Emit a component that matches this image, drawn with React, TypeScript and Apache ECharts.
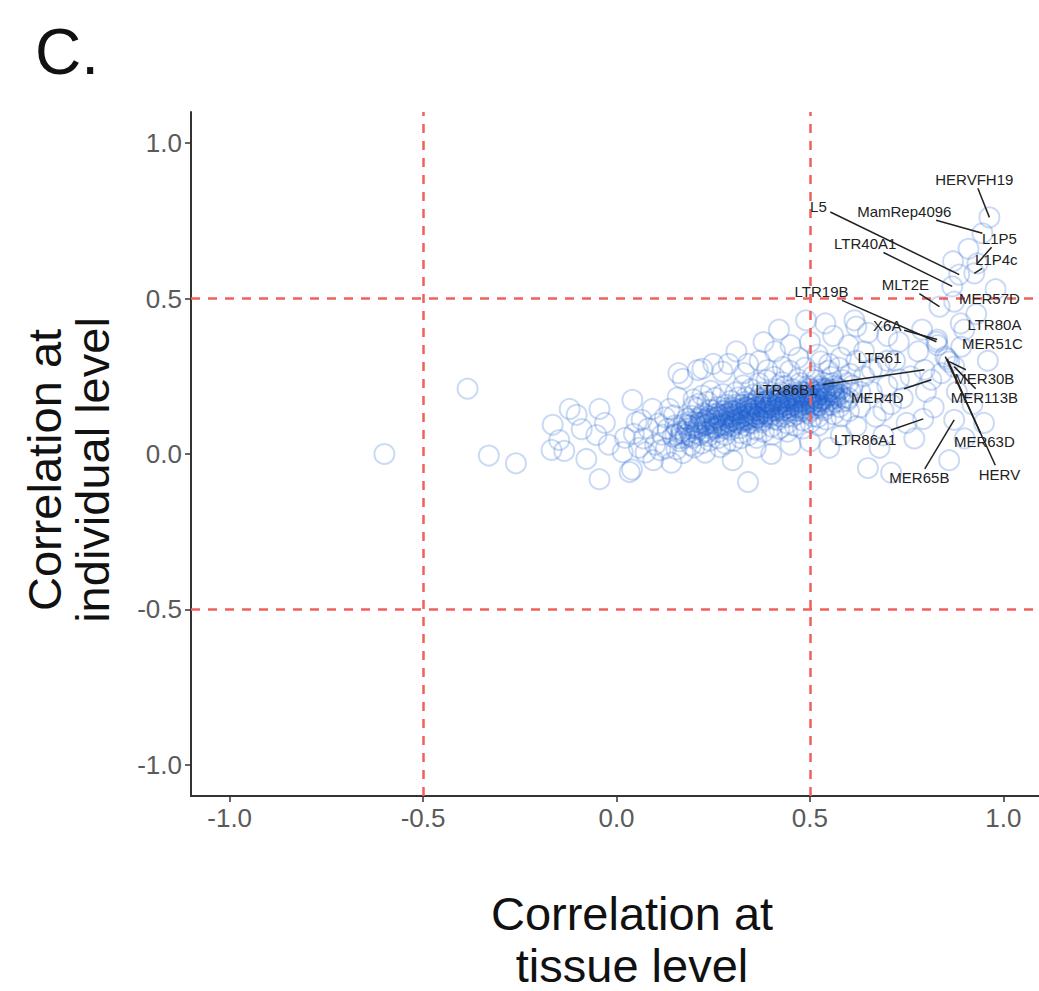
import React, { useEffect, useRef } from "react";
import * as echarts from "echarts";

const FONT = '"Liberation Sans", Arial, Helvetica, sans-serif';

const xTicks = [-1, -0.5, 0, 0.5, 1];
const yTicks = [-1, -0.5, 0, 0.5, 1];
const refLinesX = [-0.5, 0.5];
const refLinesY = [-0.5, 0.5];

// sparse points on the left / lower part of the cloud
const sparsePoints = [
  [-0.6, 0.0], [-0.385, 0.21], [-0.33, -0.005], [-0.26, -0.03],
  [-0.168, 0.013], [-0.165, 0.094], [-0.121, 0.145], [-0.103, 0.126], [-0.148, 0.045], [-0.135, 0.01],
  [-0.044, 0.145], [-0.052, 0.061], [-0.078, -0.016], [-0.044, -0.081], [-0.02, 0.03], [-0.03, 0.1], [-0.09, 0.08],
  [0.041, 0.174], [0.052, 0.103], [0.034, -0.058], [0.016, 0.006], [0.093, 0.145], [0.07, 0.05], [0.058, 0.02],
  [0.082, 0.082], [0.1, 0.03], [0.022, 0.052], [0.095, -0.02], [0.045, 0.065], [0.075, 0.005], [0.065, 0.11],
  [0.137, 0.145], [0.171, 0.242], [0.118, 0.062], [0.128, 0.018], [0.152, 0.092], [0.163, 0.041], [0.182, 0.113],
  [0.188, 0.071], [0.108, 0.098], [0.142, -0.028], [0.172, 0.003], [0.198, 0.153], [0.193, 0.028], [0.148, 0.124],
  [0.178, 0.052], [0.132, 0.081], [0.158, 0.182], [0.113, 0.012], [0.125, 0.118], [0.166, 0.068], [0.145, 0.056],
  [0.185, 0.092], [0.155, 0.015], [0.04, -0.05], [0.34, -0.09],
  [0.3, -0.02], [0.36, 0.02], [0.4, 0.0], [0.45, 0.03], [0.5, 0.04], [0.55, 0.02], [0.58, 0.06],
];

// points just above the dense band
const upperPoints = [
  [0.16, 0.26], [0.21, 0.27], [0.25, 0.29], [0.29, 0.29], [0.34, 0.29], [0.37, 0.3],
  [0.222, 0.274], [0.274, 0.265], [0.42, 0.4], [0.49, 0.43], [0.54, 0.42], [0.31, 0.33],
  [0.45, 0.35], [0.38, 0.36], [0.5, 0.36], [0.56, 0.38], [0.6, 0.35], [0.62, 0.41],
  [0.58, 0.31], [0.47, 0.31], [0.41, 0.33], [0.52, 0.32], [0.43, 0.28], [0.55, 0.29],
  [0.33, 0.26], [0.39, 0.27],
];

// dense band
const corePoints = [
  [0.201, 0.021], [0.196, 0.052], [0.207, 0.083], [0.203, 0.104], [0.194, 0.123], [0.209, 0.148], [0.199, 0.176], [0.205, 0.068],
  [0.221, 0.034], [0.216, 0.061], [0.227, 0.092], [0.219, 0.113], [0.224, 0.131], [0.214, 0.162], [0.229, 0.004], [0.222, 0.188],
  [0.241, 0.043], [0.236, 0.072], [0.246, 0.098], [0.239, 0.121], [0.243, 0.142], [0.235, 0.168], [0.248, 0.087], [0.244, 0.203],
  [0.262, 0.051], [0.256, 0.083], [0.266, 0.108], [0.259, 0.129], [0.264, 0.152], [0.255, 0.181], [0.268, 0.022], [0.261, 0.118],
  [0.281, 0.061], [0.276, 0.092], [0.286, 0.117], [0.279, 0.138], [0.284, 0.158], [0.275, 0.193], [0.288, 0.104], [0.282, 0.033], [0.277, 0.125],
  [0.302, 0.042], [0.296, 0.078], [0.306, 0.107], [0.299, 0.128], [0.304, 0.149], [0.295, 0.171], [0.308, 0.198], [0.301, 0.118], [0.297, 0.088], [0.305, 0.139],
  [0.321, 0.068], [0.316, 0.098], [0.326, 0.119], [0.319, 0.141], [0.324, 0.158], [0.315, 0.182], [0.328, 0.221], [0.322, 0.051], [0.318, 0.128], [0.325, 0.109],
  [0.342, 0.061], [0.336, 0.092], [0.346, 0.117], [0.339, 0.138], [0.344, 0.161], [0.335, 0.183], [0.348, 0.209], [0.341, 0.129], [0.337, 0.148], [0.345, 0.101],
  [0.361, 0.078], [0.356, 0.108], [0.366, 0.128], [0.359, 0.149], [0.364, 0.171], [0.355, 0.192], [0.368, 0.228], [0.362, 0.052], [0.358, 0.139], [0.365, 0.118], [0.357, 0.161],
  [0.381, 0.071], [0.376, 0.102], [0.386, 0.129], [0.379, 0.151], [0.384, 0.168], [0.375, 0.198], [0.388, 0.238], [0.382, 0.141], [0.377, 0.119], [0.385, 0.159], [0.38, 0.181],
  [0.401, 0.088], [0.396, 0.118], [0.406, 0.139], [0.399, 0.158], [0.404, 0.178], [0.395, 0.201], [0.408, 0.248], [0.402, 0.062], [0.397, 0.148], [0.405, 0.128], [0.4, 0.168],
  [0.421, 0.081], [0.416, 0.109], [0.426, 0.138], [0.419, 0.161], [0.424, 0.179], [0.415, 0.208], [0.428, 0.231], [0.422, 0.149], [0.417, 0.171], [0.425, 0.121], [0.42, 0.191],
  [0.441, 0.098], [0.436, 0.128], [0.446, 0.149], [0.439, 0.171], [0.444, 0.188], [0.435, 0.218], [0.448, 0.268], [0.442, 0.072], [0.437, 0.158], [0.445, 0.139], [0.44, 0.181],
  [0.461, 0.091], [0.456, 0.121], [0.466, 0.151], [0.459, 0.169], [0.464, 0.188], [0.455, 0.209], [0.468, 0.241], [0.462, 0.161], [0.457, 0.178], [0.465, 0.138], [0.46, 0.198],
  [0.481, 0.108], [0.476, 0.138], [0.486, 0.158], [0.479, 0.181], [0.484, 0.198], [0.475, 0.228], [0.488, 0.278], [0.482, 0.082], [0.477, 0.168], [0.485, 0.148], [0.48, 0.191],
  [0.501, 0.101], [0.496, 0.131], [0.506, 0.159], [0.499, 0.178], [0.504, 0.198], [0.495, 0.219], [0.508, 0.251], [0.502, 0.168], [0.497, 0.188], [0.505, 0.142], [0.5, 0.209],
  [0.521, 0.118], [0.516, 0.148], [0.526, 0.169], [0.519, 0.189], [0.524, 0.208], [0.515, 0.238], [0.528, 0.298], [0.522, 0.092], [0.517, 0.178], [0.525, 0.158],
  [0.541, 0.111], [0.536, 0.141], [0.546, 0.168], [0.539, 0.191], [0.544, 0.211], [0.535, 0.229], [0.548, 0.268], [0.542, 0.181], [0.537, 0.201],
  [0.561, 0.128], [0.556, 0.158], [0.566, 0.179], [0.559, 0.199], [0.564, 0.219], [0.555, 0.248], [0.562, 0.188],
  [0.581, 0.121], [0.576, 0.151], [0.586, 0.181], [0.579, 0.208], [0.584, 0.238], [0.575, 0.278], [0.582, 0.168],
  [0.601, 0.138], [0.596, 0.171], [0.606, 0.198], [0.599, 0.228], [0.604, 0.258],
];

// crowded centre of the band
const innerCorePoints = [
  [0.152, 0.062], [0.158, 0.083], [0.163, 0.051], [0.169, 0.074], [0.174, 0.095], [0.178, 0.061], [0.184, 0.082], [0.189, 0.104], [0.192, 0.058],
  [0.211, 0.078], [0.214, 0.101], [0.218, 0.121], [0.226, 0.072], [0.231, 0.094], [0.234, 0.113], [0.238, 0.058], [0.245, 0.081], [0.249, 0.128],
  [0.253, 0.098], [0.257, 0.117], [0.263, 0.071], [0.267, 0.092], [0.271, 0.139], [0.274, 0.108], [0.279, 0.082], [0.283, 0.127], [0.287, 0.148],
  [0.291, 0.101], [0.294, 0.119], [0.298, 0.138], [0.303, 0.093], [0.307, 0.158], [0.311, 0.112], [0.314, 0.131], [0.318, 0.083], [0.323, 0.147],
  [0.327, 0.104], [0.331, 0.124], [0.333, 0.168], [0.338, 0.112], [0.343, 0.142], [0.347, 0.131], [0.351, 0.158], [0.353, 0.099], [0.357, 0.121],
  [0.362, 0.141], [0.367, 0.178], [0.371, 0.128], [0.373, 0.153], [0.378, 0.109], [0.383, 0.138], [0.387, 0.171], [0.391, 0.148], [0.393, 0.127],
  [0.398, 0.161], [0.403, 0.188], [0.407, 0.113], [0.411, 0.152], [0.414, 0.138], [0.418, 0.178], [0.423, 0.163], [0.427, 0.198], [0.431, 0.142],
  [0.434, 0.171], [0.438, 0.118], [0.443, 0.158], [0.447, 0.181], [0.451, 0.168], [0.453, 0.141], [0.458, 0.191], [0.463, 0.172], [0.467, 0.128],
  [0.471, 0.158], [0.474, 0.181], [0.478, 0.201], [0.483, 0.171], [0.487, 0.138], [0.491, 0.188], [0.494, 0.162], [0.498, 0.211], [0.503, 0.181],
  [0.507, 0.121], [0.511, 0.168], [0.514, 0.198], [0.518, 0.158], [0.523, 0.191], [0.527, 0.218], [0.531, 0.178], [0.534, 0.148], [0.538, 0.208],
  [0.543, 0.188], [0.547, 0.158], [0.551, 0.201], [0.554, 0.178], [0.558, 0.228], [0.563, 0.198], [0.567, 0.168], [0.572, 0.211], [0.578, 0.191],
];

// densest ridge of the band
const ridgePoints = [
  [0.204, 0.092], [0.212, 0.088], [0.219, 0.101], [0.228, 0.108], [0.236, 0.098], [0.243, 0.112],
  [0.252, 0.108], [0.258, 0.089], [0.265, 0.125], [0.272, 0.099], [0.278, 0.118], [0.285, 0.091], [0.292, 0.131],
  [0.297, 0.109], [0.304, 0.124], [0.309, 0.101], [0.313, 0.143], [0.319, 0.116], [0.326, 0.132], [0.332, 0.109],
  [0.336, 0.151], [0.341, 0.121], [0.347, 0.144], [0.352, 0.128], [0.358, 0.152], [0.363, 0.118], [0.369, 0.141],
  [0.374, 0.163], [0.379, 0.132], [0.386, 0.149], [0.391, 0.168], [0.395, 0.138], [0.402, 0.155], [0.408, 0.171],
  [0.413, 0.143], [0.419, 0.159], [0.424, 0.181], [0.429, 0.152], [0.436, 0.168], [0.442, 0.148], [0.447, 0.172],
  [0.452, 0.188], [0.457, 0.158], [0.463, 0.181], [0.469, 0.168], [0.473, 0.149], [0.479, 0.188], [0.484, 0.162],
  [0.489, 0.178], [0.493, 0.198], [0.499, 0.171], [0.504, 0.158], [0.509, 0.188], [0.513, 0.178], [0.519, 0.201],
  [0.524, 0.168], [0.529, 0.192], [0.533, 0.211], [0.539, 0.178], [0.545, 0.198], [0.552, 0.188], [0.557, 0.208],
  [0.565, 0.188], [0.571, 0.198],
];

// right-hand scattered points
const rightPoints = [
  [0.615, 0.43], [0.65, 0.39], [0.73, 0.36], [0.62, 0.3], [0.64, 0.25], [0.66, 0.2], [0.68, 0.28], [0.7, 0.22],
  [0.72, 0.3], [0.74, 0.18], [0.76, 0.25], [0.78, 0.33], [0.8, 0.2], [0.63, 0.15], [0.67, 0.12], [0.71, 0.16],
  [0.75, 0.1], [0.69, 0.06], [0.62, 0.09], [0.65, -0.045], [0.71, -0.06], [0.68, 0.02], [0.77, 0.05], [0.82, 0.15],
  [0.84, 0.26], [0.79, 0.4], [0.83, 0.35], [0.61, 0.22], [0.64, 0.33], [0.7, 0.38], [0.73, 0.24], [0.66, 0.27],
  [0.6, 0.18], [0.63, 0.2], [0.69, 0.14],
  [0.88, 0.2], [0.9, 0.05], [0.92, 0.16], [0.95, 0.1], [0.86, -0.02], [0.89, 0.42], [0.93, 0.45], [0.96, 0.3],
  [0.98, 0.53], [0.91, 0.66], [0.87, 0.62],
];

// labelled repeat families: name, point, label position
const labelNames = [
  "HERVFH19", "MamRep4096", "L5", "L1P5", "L1P4c", "LTR40A1", "MLT2E", "MER57D", "LTR19B", "X6A",
  "LTR80A", "MER51C", "LTR61", "LTR86B1", "MER4D", "MER30B", "MER113B", "MER63D", "HERV", "MER65B", "LTR86A1",
];
const labelPoints = [
  [0.964, 0.761], [0.946, 0.71], [0.886, 0.577], [0.933, 0.613], [0.925, 0.581], [0.868, 0.539], [0.835, 0.474],
  [0.873, 0.49], [0.827, 0.361], [0.829, 0.368], [0.899, 0.4], [0.891, 0.345], [0.7, 0.3], [0.796, 0.271],
  [0.814, 0.239], [0.86, 0.297], [0.873, 0.281], [0.855, 0.306], [0.85, 0.313], [0.873, 0.11], [0.793, 0.113],
];
const labelPositions = [
  [0.925, 0.884], [0.744, 0.781], [0.522, 0.797], [0.99, 0.694], [0.982, 0.626], [0.643, 0.677], [0.747, 0.545],
  [0.964, 0.5], [0.53, 0.523], [0.7, 0.413], [0.977, 0.416], [0.972, 0.355], [0.68, 0.31], [0.439, 0.206],
  [0.674, 0.181], [0.951, 0.242], [0.951, 0.181], [0.951, 0.039], [0.99, -0.065], [0.783, -0.077], [0.643, 0.048],
];

const LABEL_FS = 15;

export default function App() {
  const ref = useRef<HTMLDivElement>(null);

  useEffect(() => {
    document.body.style.margin = "0";
    if (!ref.current) return;
    const chart = echarts.init(ref.current, undefined, { renderer: "svg" });

    const allPoints = [
      ...sparsePoints, ...upperPoints, ...corePoints, ...innerCorePoints, ...ridgePoints, ...rightPoints, ...labelPoints,
    ];
    const labelData = labelPoints.map((p, i) => [p[0], p[1], labelPositions[i][0], labelPositions[i][1]]);

    const axisCommon = (ticks: number[]) => ({
      type: "value" as const,
      min: -1.1,
      max: 1.1,
      splitLine: { show: false },
      axisLine: { show: true, onZero: false, lineStyle: { color: "#333", width: 2 } },
      axisTick: { show: true, customValues: ticks, length: 6, lineStyle: { color: "#333", width: 1.5 } },
      axisLabel: {
        customValues: ticks,
        formatter: (v: number) => v.toFixed(1),
        fontSize: 26,
        color: "#5a5a5a",
        fontFamily: FONT,
      },
    });

    const xAxis: any = axisCommon(xTicks);
    xAxis.axisLabel.margin = 9;
    const yAxis: any = axisCommon(yTicks);
    yAxis.axisLabel.margin = 9;

    chart.setOption({
      animation: false,
      grid: { left: 191, top: 112, width: 851, height: 684, containLabel: false, outerBoundsMode: "none" },
      xAxis,
      yAxis,
      series: [
        {
          type: "scatter",
          data: allPoints,
          symbol: "circle",
          symbolSize: 20,
          silent: true,
          itemStyle: { color: "rgba(0,0,0,0)", borderColor: "rgba(30,96,206,0.29)", borderWidth: 2 },
          markLine: {
            silent: true,
            symbol: ["none", "none"],
            label: { show: false },
            lineStyle: { color: "#f0605c", type: [9, 8], width: 2.5 },
            emphasis: { disabled: true },
            data: [...refLinesX.map((v) => ({ xAxis: v })), ...refLinesY.map((v) => ({ yAxis: v }))],
          },
        },
        {
          type: "custom",
          silent: true,
          z: 5,
          data: labelData,
          encode: { x: [0, 2], y: [1, 3] },
          renderItem: (params: any, api: any) => {
            const i = params.dataIndex;
            const name = labelNames[i];
            const p = api.coord([api.value(0), api.value(1)]);
            const l = api.coord([api.value(2), api.value(3)]);
            const hw = name.length * LABEL_FS * 0.33 + 2;
            const hh = LABEL_FS * 0.6;
            const children: any[] = [];
            const dx = p[0] - l[0];
            const dy = p[1] - l[1];
            if (Math.abs(dx) > hw || Math.abs(dy) > hh) {
              const tx = dx !== 0 ? hw / Math.abs(dx) : Infinity;
              const ty = dy !== 0 ? hh / Math.abs(dy) : Infinity;
              const t = Math.min(tx, ty);
              const sx = l[0] + dx * t;
              const sy = l[1] + dy * t;
              if (Math.hypot(p[0] - sx, p[1] - sy) > 4) {
                children.push({
                  type: "line",
                  shape: { x1: sx, y1: sy, x2: p[0], y2: p[1] },
                  style: { stroke: "#222", lineWidth: 1.5 },
                });
              }
            }
            children.push({
              type: "text",
              x: l[0],
              y: l[1],
              style: {
                text: name,
                fontSize: LABEL_FS,
                fontFamily: FONT,
                fill: "#222",
                textAlign: "center",
                textVerticalAlign: "middle",
              },
            });
            return { type: "group", children };
          },
        },
      ],
      graphic: [
        {
          type: "text",
          x: 35,
          y: 52,
          style: { text: "C.", fontSize: 64, fontFamily: FONT, fill: "#111", textAlign: "left", textVerticalAlign: "middle" },
        },
        {
          type: "text",
          x: 632,
          y: 939,
          style: {
            text: "Correlation at\ntissue level",
            fontSize: 47,
            lineHeight: 52,
            fontFamily: FONT,
            fill: "#111",
            textAlign: "center",
            textVerticalAlign: "middle",
          },
        },
        {
          type: "text",
          x: 68,
          y: 470,
          rotation: Math.PI / 2,
          style: {
            text: "Correlation at\nindividual level",
            fontSize: 47,
            lineHeight: 48,
            fontFamily: FONT,
            fill: "#111",
            textAlign: "center",
            textVerticalAlign: "middle",
          },
        },
      ],
    });

    return () => chart.dispose();
  }, []);

  return <div ref={ref} style={{ width: 1039, height: 991 }} />;
}
